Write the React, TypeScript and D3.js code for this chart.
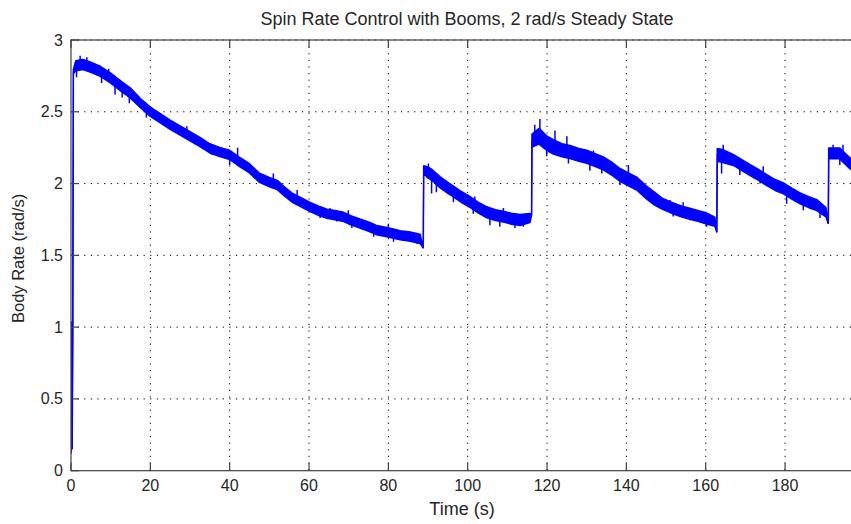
import React from "react";
import * as d3 from "d3";

// ---- data ----
const time: number[] = [
  0, 0.15, 0.3, 0.45, 0.6, 1.2, 3, 5, 7.5, 10, 12.5, 15, 17.5, 20, 22.5, 25, 27.5, 30, 32.5, 35, 37.5, 40,
  42.5, 45, 47.5, 50, 52, 54, 56, 58, 60, 62.5, 64.5, 66.5, 68.5, 70.5, 73, 75, 77, 79, 81, 83, 85.5, 88,
  88.8, 88.9, 89.8, 91, 93, 95, 96.5, 98.5, 100.5, 102.5, 104.8, 107, 109, 111, 113.2, 115.7,
  116.1, 116.2, 118, 120, 121.6, 124, 125.8, 128, 130, 132, 134.2, 136.5, 138.4, 140.5, 142.6, 145, 147,
  149, 151.5, 154, 156, 158, 160.2, 162.3,
  162.8, 162.9, 164.5, 167, 169, 171.2, 173.3, 175.4, 177.5, 179.6, 181.7, 183.8, 186, 188, 190.3,
  190.9, 191.0, 193.8, 196.4, 198,
];
const rate: number[] = [
  0.12, 1.04, 0.15, 1.0, 2.78, 2.82, 2.83, 2.81, 2.78, 2.735, 2.68, 2.63, 2.56, 2.5, 2.455, 2.41, 2.37, 2.33, 2.29, 2.245, 2.22, 2.2,
  2.15, 2.106, 2.04, 2.01, 1.99, 1.94, 1.897, 1.87, 1.84, 1.81, 1.79, 1.78, 1.77, 1.745, 1.72, 1.7, 1.676, 1.665, 1.653, 1.64, 1.63, 1.615,
  1.55, 2.1, 2.08, 2.06, 2.01, 1.97, 1.943, 1.905, 1.873, 1.835, 1.8, 1.78, 1.77, 1.755, 1.746, 1.76,
  1.78, 2.3, 2.33, 2.28, 2.256, 2.23, 2.22, 2.2, 2.187, 2.165, 2.14, 2.1, 2.06, 2.03, 2.0, 1.94, 1.897,
  1.86, 1.83, 1.805, 1.79, 1.775, 1.757, 1.734,
  1.66, 2.2, 2.19, 2.164, 2.13, 2.094, 2.06, 2.024, 1.99, 1.967, 1.93, 1.897, 1.87, 1.85, 1.8,
  1.72, 2.21, 2.21, 2.14, 2.12,
];
// half-thickness of the solid noise core
const spread: number[] = [
  0, 0, 0, 0, 0.015, 0.035, 0.035, 0.035, 0.035, 0.035, 0.035, 0.035, 0.032, 0.032, 0.032, 0.032, 0.032, 0.032, 0.032, 0.032, 0.032, 0.032,
  0.032, 0.032, 0.032, 0.032, 0.032, 0.032, 0.032, 0.032, 0.032, 0.032, 0.032, 0.032, 0.032, 0.032, 0.032, 0.032, 0.032, 0.032, 0.032, 0.032, 0.032, 0.032,
  0, 0.025, 0.038, 0.038, 0.038, 0.038, 0.038, 0.038, 0.038, 0.038, 0.038, 0.038, 0.038, 0.038, 0.038, 0.032,
  0, 0.045, 0.055, 0.05, 0.05, 0.045, 0.045, 0.045, 0.045, 0.045, 0.045, 0.045, 0.045, 0.045, 0.045, 0.045, 0.045,
  0.038, 0.038, 0.038, 0.038, 0.038, 0.038, 0.032,
  0, 0.045, 0.045, 0.038, 0.038, 0.038, 0.038, 0.038, 0.038, 0.038, 0.038, 0.038, 0.038, 0.038, 0.032,
  0, 0.038, 0.038, 0.038, 0.038,
];
// individual noise spikes standing out of the core (time, extreme value)
const spikeTime: number[] = [
  1.4, 2.3, 4, 7.7, 9.5, 11.1, 12.9, 14.7, 19, 26, 29.2, 32, 35.5, 40, 42, 46,
  51, 57, 62.8, 65.3, 67, 69.9, 70.8, 76.3, 80, 81.3, 87.2,
  90.1, 90.9, 92.1, 96.4, 101.4, 101.8, 105.6, 108.1, 109, 111.9, 114,
  116.9, 118.2, 119.9, 122, 125, 125.4, 130.8, 131.7, 133.8, 138.4, 140.5, 145.1, 151, 151.8, 154.3, 156, 160.2,
  164, 164.4, 168.6, 173.7, 174.5, 180.4, 184.6, 188.8,
  192.1, 193.8, 194.6,
];
const spikeValue: number[] = [
  2.74, 2.89, 2.88, 2.7, 2.8, 2.62, 2.6, 2.56, 2.46, 2.36, 2.4, 2.27, 2.2, 2.13, 2.25, 2.05,
  2.07, 1.955, 1.76, 1.83, 1.735, 1.815, 1.69, 1.63, 1.72, 1.595, 1.58,
  2.14, 1.93, 1.94, 1.87, 1.79, 1.91, 1.71, 1.7, 1.83, 1.69, 1.7,
  2.41, 2.45, 2.19, 2.37, 2.33, 2.14, 2.09, 2.23, 2.07, 1.99, 2.13, 1.91, 1.885, 1.77, 1.87, 1.745, 1.7,
  2.07, 2.27, 2.06, 2.0, 2.12, 1.86, 1.815, 1.76,
  2.27, 2.13, 2.27,
];
const xTicks: number[] = [0, 20, 40, 60, 80, 100, 120, 140, 160, 180];
const yTicks: number[] = [0, 0.5, 1, 1.5, 2, 2.5, 3];

const title = "Spin Rate Control with Booms, 2 rad/s Steady State";
const xLabel = "Time (s)";
const yLabel = "Body Rate (rad/s)";

const W = 851;
const H = 524;
const left = 71;
const right = 864.4;
const top = 40;
const bottom = 470.7;
const FONT = "'Liberation Sans', Arial, Helvetica, sans-serif";

type P = { t: number; v: number; s: number };

export default function App() {
  const x = d3.scaleLinear().domain([0, 200]).range([left, right]);
  const y = d3.scaleLinear().domain([0, 3]).range([bottom, top]);
  const pts: P[] = time.map((t, i) => ({ t, v: rate[i], s: spread[i] }));
  const area = d3
    .area<P>()
    .x((d) => x(d.t))
    .y0((d) => y(d.v - d.s))
    .y1((d) => y(d.v + d.s));
  const line = d3
    .line<P>()
    .x((d) => x(d.t))
    .y((d) => y(d.v));
  // center of the trace at a given time (piecewise linear through the read points)
  const center = (t: number) => {
    const i = d3.bisectRight(time, t);
    if (i <= 0) return rate[0];
    if (i >= time.length) return rate[time.length - 1];
    const t0 = time[i - 1];
    const t1 = time[i];
    return rate[i - 1] + ((rate[i] - rate[i - 1]) * (t - t0)) / (t1 - t0);
  };
  const dash = "1.2,5.4";
  return (
    <svg width={W} height={H} style={{ position: "absolute", left: 0, top: 0, background: "#fff" }}>
      <defs>
        <clipPath id="plotclip">
          <rect x={left} y={top} width={right - left} height={bottom - top} />
        </clipPath>
      </defs>
      <rect x={0} y={0} width={W} height={H} fill="#fff" />
      {/* grid */}
      {xTicks.slice(1).map((t) => (
        <line key={"gx" + t} x1={x(t)} x2={x(t)} y1={top} y2={bottom} stroke="#000" strokeWidth={1} strokeDasharray={dash} />
      ))}
      {yTicks.slice(1).map((v) => (
        <line key={"gy" + v} x1={left} x2={right} y1={y(v)} y2={y(v)} stroke="#000" strokeWidth={1} strokeDasharray={dash} />
      ))}
      {/* data */}
      <g clipPath="url(#plotclip)">
        <path d={area(pts) || ""} fill="#0000ff" stroke="#0000ff" strokeWidth={1.5} strokeLinejoin="bevel" />
        <path d={line(pts) || ""} fill="none" stroke="#0000ff" strokeWidth={1.2} />
        {spikeTime.map((t, i) => (
          <line
            key={"sp" + i}
            x1={x(t)}
            x2={x(t)}
            y1={y(center(t))}
            y2={y(spikeValue[i])}
            stroke="#0000ff"
            strokeWidth={1.5}
          />
        ))}
      </g>
      {/* axes box */}
      <rect x={left} y={top} width={right - left} height={bottom - top} fill="none" stroke="#404040" strokeWidth={1.2} />
      {xTicks.map((t) => (
        <g key={"tx" + t}>
          <line x1={x(t)} x2={x(t)} y1={bottom} y2={bottom - 8} stroke="#404040" strokeWidth={1.2} />
          <line x1={x(t)} x2={x(t)} y1={top} y2={top + 8} stroke="#404040" strokeWidth={1.2} />
          <text x={x(t)} y={491} textAnchor="middle" fontFamily={FONT} fontSize={16} fill="#262626">
            {t}
          </text>
        </g>
      ))}
      {yTicks.map((v) => (
        <g key={"ty" + v}>
          <line x1={left} x2={left + 8} y1={y(v)} y2={y(v)} stroke="#404040" strokeWidth={1.2} />
          <text x={63} y={y(v) + 5.5} textAnchor="end" fontFamily={FONT} fontSize={16} fill="#262626">
            {v}
          </text>
        </g>
      ))}
      <text x={467} y={25} textAnchor="middle" fontFamily={FONT} fontSize={18} fill="#262626">
        {title}
      </text>
      <text x={462} y={515} textAnchor="middle" fontFamily={FONT} fontSize={18} fill="#262626">
        {xLabel}
      </text>
      <text
        transform={`translate(24, ${(top + bottom) / 2 + 3}) rotate(-90)`}
        textAnchor="middle"
        fontFamily={FONT}
        fontSize={16.5}
        fill="#262626"
      >
        {yLabel}
      </text>
    </svg>
  );
}
